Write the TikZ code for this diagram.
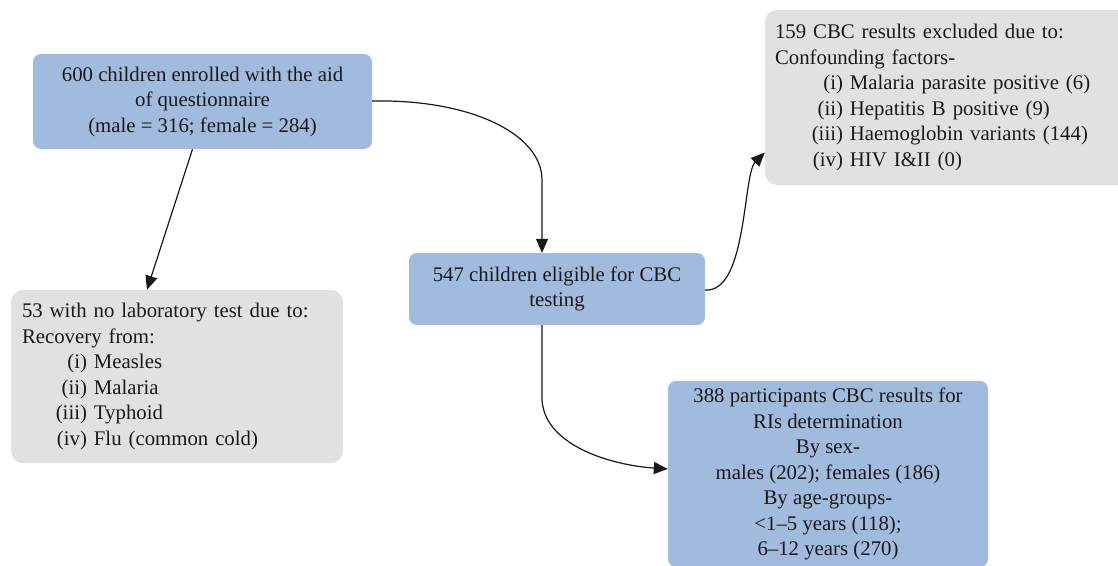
\documentclass[tikz,border=0pt]{standalone}
\usepackage{fontspec}
\setmainfont{Liberation Serif}
\usetikzlibrary{arrows.meta,calc}
\definecolor{boxblue}{HTML}{A1BBDF}
\definecolor{boxgray}{HTML}{E0E1E0}
\newcommand{\lbl}[2]{\makebox[#1][r]{#2}\ }
\begin{document}
\begin{tikzpicture}[x=1pt,y=-1pt,
  every node/.style={font=\fontsize{20.8}{25.5}\selectfont, text=black!90},
  bluebox/.style={fill=boxblue, rounded corners=8pt, align=center, inner sep=0pt},
  graybox/.style={fill=boxgray, rounded corners=12pt, align=left, inner xsep=10pt, inner ysep=0pt},
  conn/.style={draw=black!90, line width=1.2pt, -{Triangle[length=14pt,width=12pt]}}]
\useasboundingbox (0,0) rectangle (1118,565);

\node[bluebox, minimum width=339pt, minimum height=95pt] (b1) at (202.5,101.5)
  {600 children enrolled with the aid\\ of questionnaire\\ (male = 316; female = 284)};

\node[graybox, minimum width=370pt, minimum height=175pt, text width=350pt] (excl) at (950,97.5)
  {159 CBC results excluded due to:\\
   Confounding factors-\\
   \lbl{68pt}{(i)}Malaria parasite positive (6)\\
   \lbl{68pt}{(ii)}Hepatitis B positive (9)\\
   \lbl{68pt}{(iii)}Haemoglobin variants (144)\\
   \lbl{68pt}{(iv)}HIV I\&II (0)};

\node[graybox, inner xsep=11pt, minimum width=332pt, minimum height=173pt, text width=310pt] (nolab) at (177,376.5)
  {53 with no laboratory test due to:\\
   Recovery from:\\
   \lbl{65pt}{(i)}Measles\\
   \lbl{65pt}{(ii)}Malaria\\
   \lbl{65pt}{(iii)}Typhoid\\
   \lbl{65pt}{(iv)}Flu (common cold)};

\node[bluebox, minimum width=296pt, minimum height=72pt] (elig) at (557,289)
  {547 children eligible for CBC\\ testing};

\node[bluebox, minimum width=320pt, minimum height=186pt] (final) at (828,474)
  {388 participants CBC results for\\ RIs determination\\ By sex-\\ males (202); females (186)\\ By age-groups-\\ {<}1--5 years (118);\\ 6--12 years (270)};

\draw[conn] ([yshift=0.5pt]b1.east) .. controls +(100,-2) and +(0,-45) .. ($(elig.north)+(-15,-73)$) -- ([xshift=-15pt]elig.north);
\draw[conn] ([xshift=-10pt]b1.south) -- ([xshift=-30pt]nolab.north);
\draw[conn] ([yshift=-1pt]elig.east) .. controls +(42,3) and +(-22,22) .. ([yshift=-55pt]excl.west);
\draw[conn] ([xshift=-15pt]elig.south) -- ++(0,75) .. controls +(3,45) and +(-58,-4) .. ([yshift=5pt]final.west);
\end{tikzpicture}
\end{document}
